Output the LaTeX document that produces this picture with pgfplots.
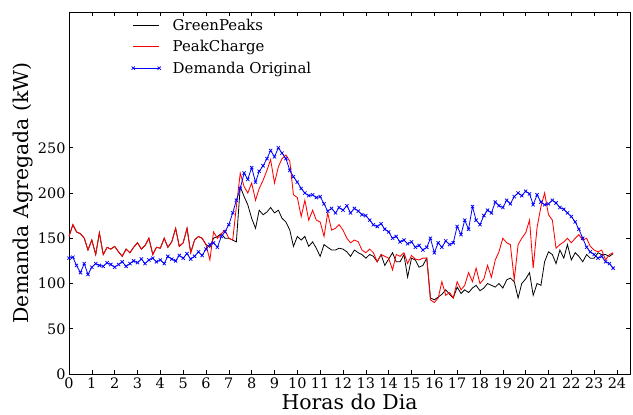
\documentclass[border=0pt]{standalone}
\usepackage{fontspec}
\setmainfont{DejaVu Serif}
\usepackage{pgfplots}
\pgfplotsset{compat=1.18}
\usepackage{pgfplotstable}
\pgfplotstableread{
h g p d
0.00 152 152 128
0.17 165 165 129
0.33 157 157 120
0.50 155 155 112
0.67 150 150 122
0.83 137 137 110
1.00 148 148 118
1.17 132 132 122
1.33 156 156 120
1.50 132 132 119
1.67 140 140 123
1.83 138 138 121
2.00 141 141 118
2.17 135 135 121
2.33 130 130 124
2.50 138 138 119
2.67 134 134 122
2.83 140 140 125
3.00 145 145 123
3.17 138 138 127
3.33 142 142 122
3.50 150 150 126
3.67 132 132 128
3.83 140 140 124
4.00 139 139 126
4.17 150 150 122
4.33 140 140 130
4.50 146 146 127
4.67 161 161 125
4.83 141 141 131
5.00 145 145 128
5.17 161 161 133
5.33 134 134 127
5.50 148 148 130
5.67 152 152 135
5.83 150 150 131
6.00 143 143 138
6.17 140 126 143
6.33 150 157 145
6.50 152 150 140
6.67 155 155 152
6.83 150 159 157
7.00 150 150 165
7.17 148 148 178
7.33 146 185 192
7.50 207 222 205
7.67 196 207 222
7.83 187 200 215
8.00 172 211 228
8.17 161 192 212
8.33 181 205 224
8.50 176 214 230
8.67 179 225 238
8.83 184 237 247
9.00 178 211 240
9.17 181 229 250
9.33 172 238 244
9.50 168 242 238
9.67 159 235 225
9.83 141 198 218
10.00 152 195 212
10.17 148 174 205
10.33 152 192 200
10.50 141 170 197
10.67 146 181 198
10.83 139 170 195
11.00 130 168 196
11.17 143 152 188
11.33 140 178 180
11.50 137 159 183
11.67 137 161 178
11.83 139 165 184
12.00 138 159 181
12.17 135 150 186
12.33 130 145 178
12.50 137 148 183
12.67 134 146 180
12.83 132 137 176
13.00 128 134 175
13.17 132 138 170
13.33 130 134 165
13.50 124 124 163
13.67 132 132 166
13.83 120 130 160
14.00 127 128 157
14.17 134 115 150
14.33 124 132 152
14.50 124 130 146
14.67 132 134 148
14.83 107 122 144
15.00 128 131 146
15.17 126 127 140
15.33 118 126 142
15.50 120 128 137
15.67 128 128 140
15.83 84 82 150
16.00 82 79 134
16.17 85 84 145
16.33 88 102 140
16.50 93 87 147
16.67 88 90 143
16.83 84 84 145
17.00 96 102 163
17.17 89 93 154
17.33 93 98 170
17.50 90 112 160
17.67 95 102 185
17.83 98 117 170
18.00 92 100 165
18.17 95 105 175
18.33 100 120 181
18.50 98 107 178
18.67 96 126 190
18.83 100 135 186
19.00 95 150 184
19.17 104 145 192
19.33 106 143 188
19.50 102 104 196
19.67 84 143 200
19.83 100 150 197
20.00 105 156 202
20.17 112 170 199
20.33 87 117 187
20.50 100 162 198
20.67 98 185 190
20.83 124 200 187
21.00 135 176 188
21.17 132 170 192
21.33 122 139 189
21.50 137 143 184
21.67 128 146 182
21.83 143 150 178
22.00 126 145 174
22.17 134 150 168
22.33 130 154 160
22.50 124 148 150
22.67 132 150 140
22.83 128 141 135
23.00 128 137 132
23.17 134 135 128
23.33 132 137 130
23.50 132 126 124
23.67 130 132 122
23.83 133 134 117
}\datatable
\begin{document}
\begin{tikzpicture}
\begin{axis}[
  scale only axis,
  width=561bp, height=362bp,
  xmin=0, xmax=24.57, ymin=0, ymax=400,
  xtick={0,1,...,24}, ytick={0,50,100,150,200,250},
  tick align=inside,
  xtick pos=both, ytick pos=both,
  major tick length=4bp,
  every tick/.style={black, line width=0.6pt},
  axis line style={line width=0.9pt},
  /pgf/number format/assume math mode=true,
  tick label style={font=\fontsize{14.5}{16}\selectfont},
  label style={font=\fontsize{20.5}{24}\selectfont},
  xlabel={Horas do Dia},
  ylabel={Demanda Agregada (kW)},
  xlabel style={at={(axis description cs:0.5,-0.0994)}, anchor=base},
  ylabel style={at={(axis description cs:-0.082,0.5)}, anchor=center},
  legend style={draw=none, fill=none, at={(axis description cs:0.106,0.992)}, anchor=north west,
    font=\fontsize{15}{17}\selectfont, row sep=4.5bp},
  legend cell align=left,
  legend image code/.code={\draw[#1] plot coordinates {(0bp,0bp) (26bp,0bp)}; \path (37bp,0bp);},
]
\addplot[black, line width=0.8pt] table[x=h, y=g] {\datatable};
\addlegendentry{GreenPeaks}
\addplot[red, line width=0.85pt] table[x=h, y=p] {\datatable};
\addlegendentry{PeakCharge}
\addplot[blue, line width=0.8pt, mark=x, mark size=2.3pt, mark options={line width=0.75pt}] table[x=h, y=d] {\datatable};
\addlegendentry{Demanda Original}
\coordinate (SW) at (rel axis cs:0,0);
\coordinate (NE) at (rel axis cs:1,1);
\end{axis}
\pgfresetboundingbox
\path[use as bounding box] ([shift={(-69bp,-41bp)}]SW) rectangle ([shift={(3bp,12bp)}]NE);
\end{tikzpicture}
\end{document}
